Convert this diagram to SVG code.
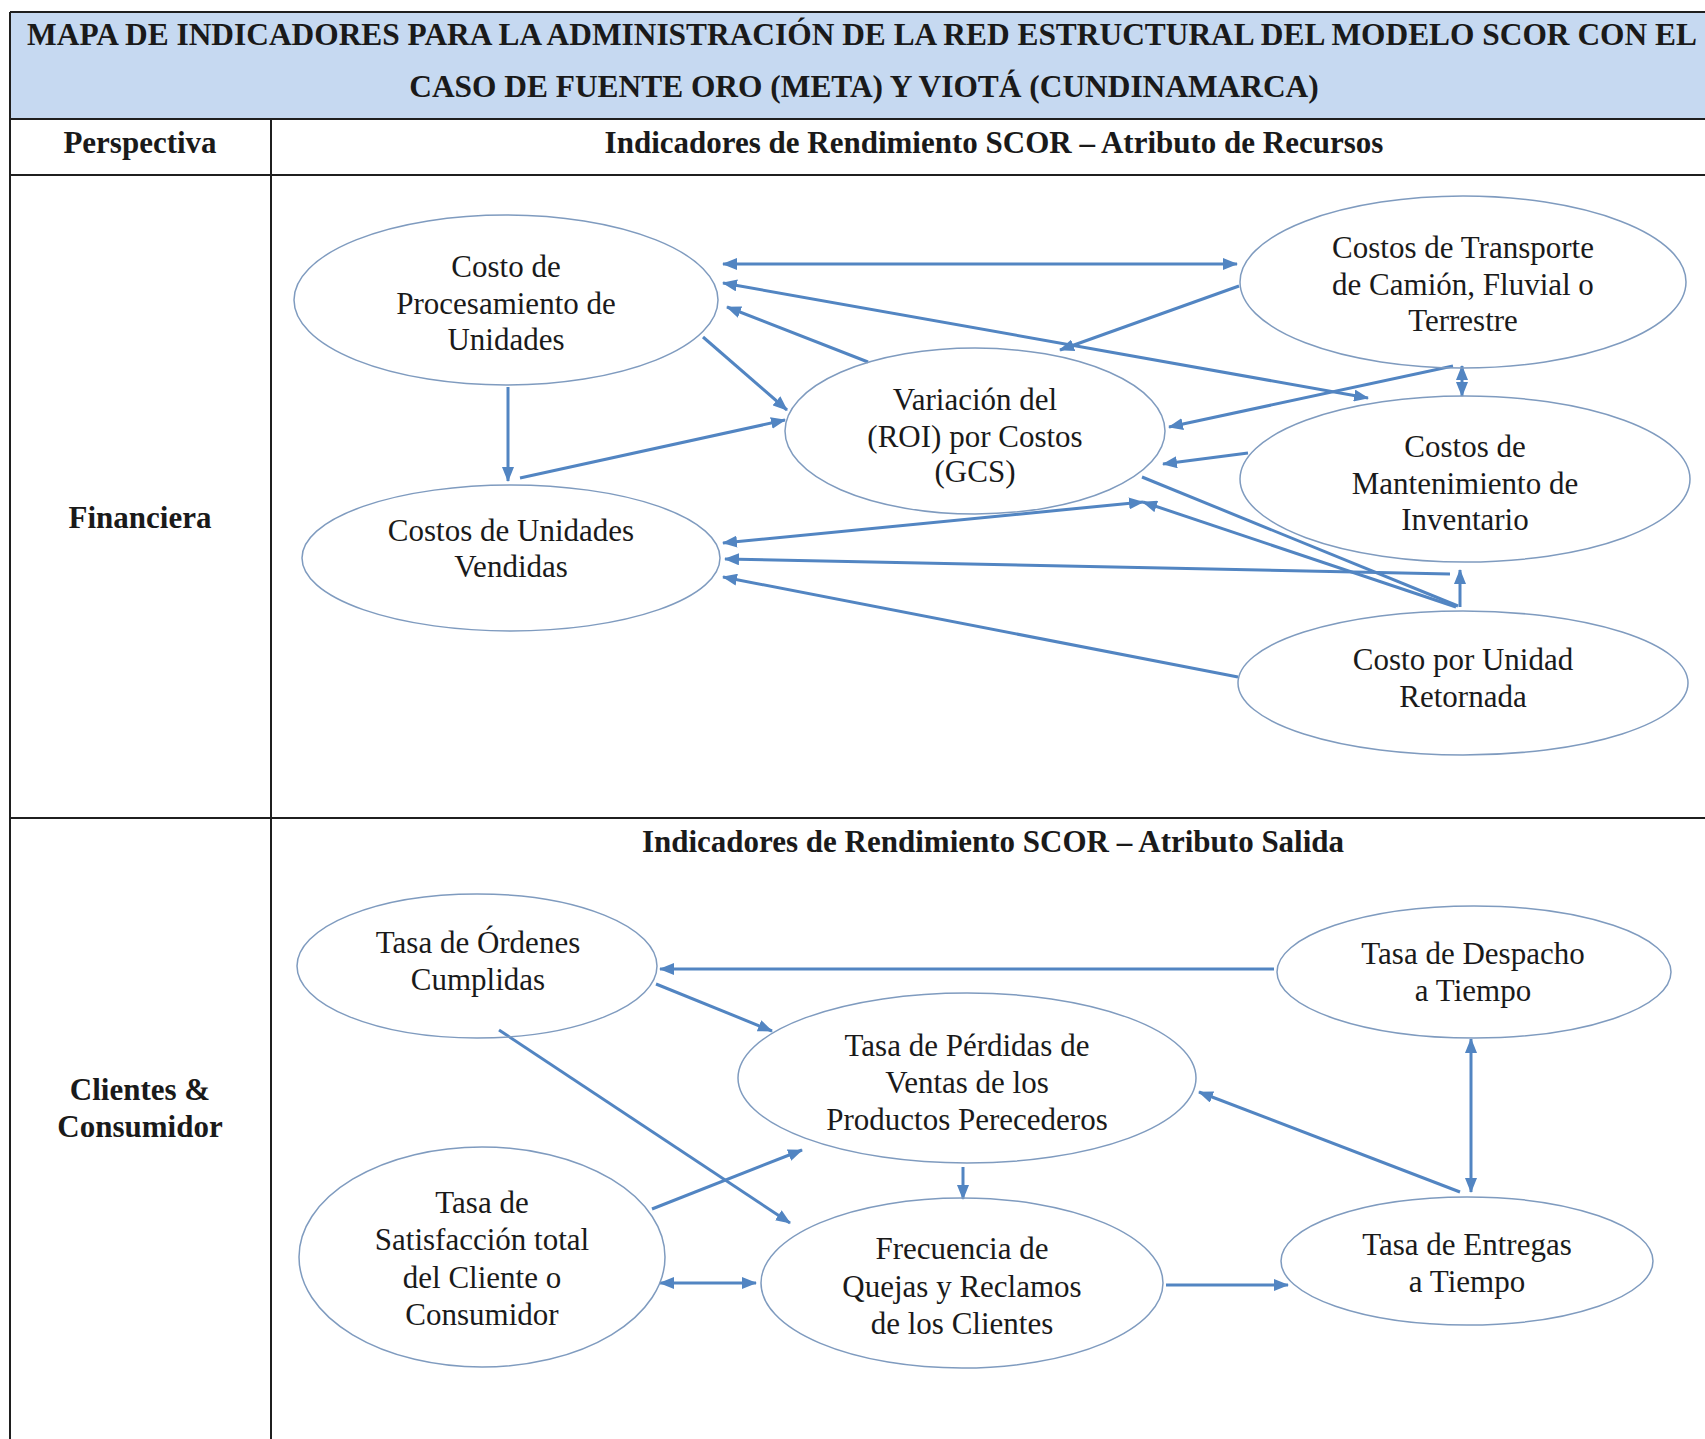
<svg xmlns="http://www.w3.org/2000/svg" width="1705" height="1439" viewBox="0 0 1705 1439">
<defs>
<style>
.t{font-family:"Liberation Serif","Times New Roman",serif;font-size:31px;fill:#1a1a1a;text-anchor:middle}
.b{font-weight:bold}
.h{font-size:31.4px}
.grid{stroke:#1f1f1f;stroke-width:2;fill:none}
.node ellipse{fill:#ffffff;stroke:#7f9bbf;stroke-width:1.5}
.c{stroke:#5285c2;stroke-width:3;fill:none;marker-end:url(#ah)}
.d{marker-start:url(#ah)}
.n{marker-end:none}
</style>
<marker id="ah" viewBox="0 0 15 12" refX="14" refY="6" markerWidth="15" markerHeight="12" markerUnits="userSpaceOnUse" orient="auto-start-reverse">
<path d="M0,0 L15,6 L0,12 z" fill="#5285c2"/>
</marker>
</defs>
<rect x="0" y="0" width="1705" height="1439" fill="#ffffff"/>
<g id="table">
<rect x="10" y="12" width="1700" height="107" fill="#c6d9f1"/>
<path class="grid" d="M10,12 H1705 M10,12 V1439 M10,119 H1705 M10,175 H1705 M10,818 H1705 M271,119 V1439"/>
<text class="t b h" x="862" y="45">MAPA DE INDICADORES PARA LA ADMINISTRACIÓN DE LA RED ESTRUCTURAL DEL MODELO SCOR CON EL</text>
<text class="t b h" x="864" y="97">CASO DE FUENTE ORO (META) Y VIOTÁ (CUNDINAMARCA)</text>
<text class="t b" x="140" y="153">Perspectiva</text>
<text class="t b" x="994" y="153">Indicadores de Rendimiento SCOR – Atributo de Recursos</text>
<text class="t b" x="140" y="528">Financiera</text>
<text class="t b" x="993" y="852">Indicadores de Rendimiento SCOR – Atributo Salida</text>
<text class="t b" x="140" y="1100">Clientes &amp;</text>
<text class="t b" x="140" y="1137">Consumidor</text>
</g>
<g id="connectors">
<line class="c d" x1="723" y1="264" x2="1237" y2="264"/>
<line class="c" x1="1239" y1="286" x2="1060" y2="350"/>
<line class="c d" x1="723" y1="283" x2="1368" y2="398"/>
<line class="c" x1="868" y1="362" x2="727" y2="307"/>
<line class="c" x1="703" y1="337" x2="787" y2="410"/>
<line class="c" x1="508" y1="387" x2="508" y2="481"/>
<line class="c" x1="520" y1="478" x2="785" y2="420"/>
<line class="c" x1="1453" y1="366" x2="1169" y2="427"/>
<line class="c d" x1="1462" y1="366" x2="1462" y2="396"/>
<line class="c" x1="1248" y1="453" x2="1163" y2="464"/>
<line class="c n" x1="1142" y1="477" x2="1458" y2="606"/>
<line class="c" x1="1456" y1="607" x2="1143" y2="502"/>
<line class="c d" x1="723" y1="543" x2="1143" y2="502"/>
<line class="c" x1="1450" y1="574" x2="725" y2="559"/>
<line class="c" x1="1238" y1="677" x2="723" y2="577"/>
<line class="c" x1="1460" y1="607" x2="1460" y2="570"/>
<line class="c" x1="1274" y1="969" x2="660" y2="969"/>
<line class="c" x1="656" y1="984" x2="772" y2="1031"/>
<line class="c" x1="499" y1="1030" x2="790" y2="1223"/>
<line class="c" x1="652" y1="1209" x2="802" y2="1150"/>
<line class="c" x1="963" y1="1167" x2="963" y2="1199"/>
<line class="c d" x1="660" y1="1283" x2="756" y2="1283"/>
<line class="c" x1="1166" y1="1285" x2="1288" y2="1285"/>
<line class="c" x1="1460" y1="1192" x2="1199" y2="1092"/>
<line class="c d" x1="1471" y1="1039" x2="1471" y2="1192"/>
</g>
<g id="n1" class="node"><ellipse cx="506" cy="300" rx="212" ry="85" fill-opacity="0"/>
<text class="t" x="506" y="277">Costo de</text><text class="t" x="506" y="314">Procesamiento de</text><text class="t" x="506" y="350">Unidades</text></g>
<g id="n2" class="node"><ellipse cx="511" cy="558" rx="209" ry="73" fill-opacity="0"/>
<text class="t" x="511" y="541">Costos de Unidades</text><text class="t" x="511" y="577">Vendidas</text></g>
<g id="n3" class="node"><ellipse cx="975" cy="431" rx="190" ry="83" fill-opacity="0"/>
<text class="t" x="975" y="410">Variación del</text><text class="t" x="975" y="447">(ROI) por Costos</text><text class="t" x="975" y="482">(GCS)</text></g>
<g id="n4" class="node"><ellipse cx="1463" cy="282" rx="223" ry="86" fill-opacity="0"/>
<text class="t" x="1463" y="258">Costos de Transporte</text><text class="t" x="1463" y="295">de Camión, Fluvial o</text><text class="t" x="1463" y="331">Terrestre</text></g>
<g id="n5" class="node"><ellipse cx="1465" cy="479" rx="225" ry="83" fill-opacity="0"/>
<text class="t" x="1465" y="457">Costos de</text><text class="t" x="1465" y="494">Mantenimiento de</text><text class="t" x="1465" y="530">Inventario</text></g>
<g id="n6" class="node"><ellipse cx="1463" cy="683" rx="225" ry="72" fill-opacity="0"/>
<text class="t" x="1463" y="670">Costo por Unidad</text><text class="t" x="1463" y="707">Retornada</text></g>
<g id="n7" class="node"><ellipse cx="477" cy="966" rx="180" ry="72" fill-opacity="0"/>
<text class="t" x="478" y="953">Tasa de Órdenes</text><text class="t" x="478" y="990">Cumplidas</text></g>
<g id="n8" class="node"><ellipse cx="1474" cy="972" rx="197" ry="66" fill-opacity="0"/>
<text class="t" x="1473" y="964">Tasa de Despacho</text><text class="t" x="1473" y="1001">a Tiempo</text></g>
<g id="n9" class="node"><ellipse cx="967" cy="1078" rx="229" ry="85" fill-opacity="0"/>
<text class="t" x="967" y="1056">Tasa de Pérdidas de</text><text class="t" x="967" y="1093">Ventas de los</text><text class="t" x="967" y="1130">Productos Perecederos</text></g>
<g id="n10" class="node"><ellipse cx="482" cy="1257" rx="183" ry="110" fill-opacity="0"/>
<text class="t" x="482" y="1213">Tasa de</text><text class="t" x="482" y="1250">Satisfacción total</text><text class="t" x="482" y="1288">del Cliente o</text><text class="t" x="482" y="1325">Consumidor</text></g>
<g id="n11" class="node"><ellipse cx="962" cy="1283" rx="201" ry="85" fill-opacity="0"/>
<text class="t" x="962" y="1259">Frecuencia de</text><text class="t" x="962" y="1297">Quejas y Reclamos</text><text class="t" x="962" y="1334">de los Clientes</text></g>
<g id="n12" class="node"><ellipse cx="1467" cy="1261" rx="186" ry="64" fill-opacity="0"/>
<text class="t" x="1467" y="1255">Tasa de Entregas</text><text class="t" x="1467" y="1292">a Tiempo</text></g>
</svg>
